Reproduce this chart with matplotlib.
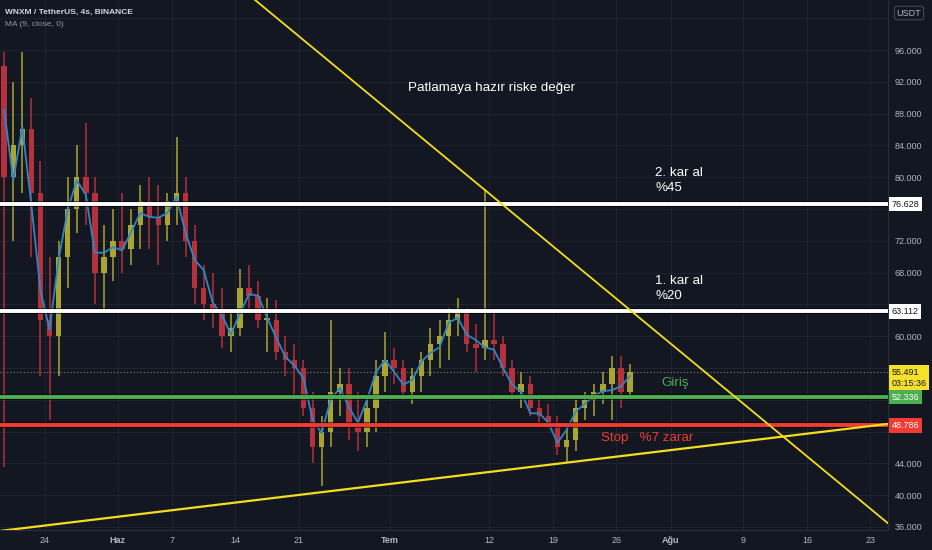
import matplotlib
matplotlib.use("Agg")
import matplotlib.pyplot as plt
import matplotlib.transforms as mtransforms

# days counted from 24 May (0); each daily candle is drawn at day + 0.5
days = list(range(-5, 65))
opens = [94, 80, 84, 86, 78, 62, 60, 70, 76, 80, 78, 68, 70, 72, 71, 74, 77, 75, 74, 77,
         78, 72, 66, 64, 63, 60, 61, 66, 65, 62, 62, 58, 57, 56, 51, 46, 48, 53, 54, 49,
         48, 51, 55, 57, 56, 53, 55, 57, 59, 60, 62, 63, 59, 58.5, 59.5, 59, 56, 53, 54, 51,
         50, 49, 46, 47, 51, 52, 53, 54, 56, 53]
highs = [95.7, 92, 95.8, 90, 82, 70, 72, 80, 84, 86.8, 80, 74, 76, 78, 76, 79, 80, 79, 78, 85,
         80, 74, 69, 68, 66, 63, 68.5, 69, 67, 64.8, 64.5, 60, 59, 57, 53, 50, 62, 56, 56, 53,
         52, 57, 60.5, 58.5, 57, 56, 58, 61, 62, 63.5, 64.8, 63.5, 61.5, 78.5, 63.0, 60, 57, 55.5, 55, 52.5,
         51.5, 50, 49, 52, 53, 54, 55.5, 57.5, 57.5, 56.5]
lows = [43.5, 72, 78, 70, 55, 49.5, 55, 66, 73, 74, 64, 63, 67, 68, 69, 71, 71, 69, 72, 74,
        70, 64, 62, 61, 58.5, 58, 60, 63, 61, 58, 57, 55, 52, 50, 44, 41.2, 46, 50, 47, 45.5,
        46, 48, 53, 54, 52, 51.5, 53, 55, 56, 57, 60, 58, 55.5, 57, 57, 55, 52, 51, 50, 49,
        48.5, 45, 44, 45.5, 49.5, 50, 51.5, 49.5, 51, 52.5]
closes = [80, 84, 86, 78, 62, 60, 70, 76, 80, 78, 68, 70, 72, 71, 74, 77, 75, 74, 77, 78,
          72, 66, 64, 63, 60, 61, 66, 65, 62, 62, 58, 57, 56, 51, 46, 48, 53, 54, 49, 48,
          51, 55, 57, 56, 53, 55, 57, 59, 60, 62, 63, 59, 58.5, 59.5, 59, 56, 53, 54, 51, 50,
          49, 46, 47, 51, 52, 53, 54, 56, 53, 55.491]
ma9 = [88.5, 79.6, 86.3, 76.5, 65.8, 60.8, 69.6, 75.9, 79.6, 77.8, 70.5, 70.5, 71.2, 70.8, 73.1,
       75.5, 75.0, 74.9, 75.5, 77.5, 73.0, 69.6, 68.3, 64.2, 62.7, 60.2, 62.9, 65.3, 65.1, 62.3,
       59.8, 57.4, 56.3, 54.7, 49.5, 47.8, 52.0, 53.5, 51.1, 49.1, 52.0, 55.5, 57.0, 55.5, 53.9,
       54.5, 56.8, 57.9, 58.6, 61.7, 62.3, 60.2, 59.5, 58.6, 58.3, 56.0, 53.9, 53.0, 50.3, 50.3,
       49.1, 46.6, 48.2, 50.5, 51.5, 52.5, 53.1, 53.2, 53.7, 55.0]

# drawn levels and trend lines
tp2, tp1, last_price, entry, stop = 76.628, 63.112, 55.491, 52.336, 48.786
down_trend = ([23.15, 92.9], [102.3, 36.5])
up_trend = ([-4.96, 92.9], [35.5, 48.96])

x_ticks = [0, 8, 14, 21, 28, 38, 49, 56, 63, 69, 77, 84, 91]
x_labels = ['24', 'Haz', '7', '14', '21', 'Tem', '12', '19', '26', 'Ağu', '9', '16', '23']
y_ticks = list(range(36, 101, 4))
y_shown = [96, 92, 88, 84, 80, 72, 68, 60, 44, 40, 36]   # the rest sit under the price boxes

BG = '#131722'
GRID = '#1f2330'
AXC = '#b2b5be'
UP = '#aaa533'
DOWN = '#b5313b'
YEL = '#f2dd1f'
GREEN = '#4caf50'
RED = '#f23b33'
FONT = ['Liberation Sans', 'DejaVu Sans']

fig = plt.figure(figsize=(9.32, 5.5), dpi=100, facecolor=BG)
ax = fig.add_axes([0, 20 / 550, 888 / 932, 530 / 550])
ax.set_facecolor(BG)

# candles
xs = [d + 0.5 for d in days]
cols = [UP if c >= o else DOWN for o, c in zip(opens, closes)]
ax.vlines(xs, lows, highs, colors=cols, linewidth=1.1, zorder=3)
bottoms = [min(o, c) for o, c in zip(opens, closes)]
heights = [max(abs(c - o), 0.3) for o, c in zip(opens, closes)]
ax.bar(xs, heights, bottom=bottoms, width=0.6, color=cols, linewidth=0, zorder=3)
ax.plot(xs, ma9, color='#2f86c4', linewidth=1.3, zorder=4)

# levels
ax.axhline(last_price, color='#8a8560', linestyle=(0, (1, 2)), linewidth=0.8, zorder=2)
for lvl, c in [(tp2, 'white'), (tp1, 'white'), (entry, GREEN), (stop, RED)]:
    ax.axhline(lvl, color='black', linewidth=4.2, zorder=5, alpha=0.6)
    ax.axhline(lvl, color=c, linewidth=2.8, zorder=6)

ax.plot(*down_trend, color=YEL, linewidth=1.3, zorder=7)
ax.plot(*up_trend, color=YEL, linewidth=1.6, zorder=7)

# annotations
FS = 9.6
ax.text(40.0, 91.2, 'Patlamaya hazır riske değer', color='white', fontsize=FS,
        family=FONT, va='center', ha='left', zorder=8)
ax.text(67.26, 80.5, '2. kar al', color='white', fontsize=FS, family=FONT, va='center', zorder=8)
ax.text(67.26, 78.6, '%45', color='white', fontsize=FS, family=FONT, va='center', zorder=8)
ax.text(67.26, 66.9, '1. kar al', color='white', fontsize=FS, family=FONT, va='center', zorder=8)
ax.text(67.26, 65.05, '%20', color='white', fontsize=FS, family=FONT, va='center', zorder=8)
ax.text(68.0, 54.1, 'Giriş', color=GREEN, fontsize=FS, family=FONT, va='center', zorder=8)
ax.text(61.3, 47.2, 'Stop   %7 zarar', color=RED, fontsize=FS, family=FONT, va='center', zorder=8)

# header
fig.text(5 / 932, 1 - 12 / 550, 'WNXM / TetherUS, 4s, BINANCE', color='#d1d4dc', fontsize=6,
         fontweight='bold', family=FONT, va='center')
fig.text(5 / 932, 1 - 25 / 550, 'MA (9, close, 0)', color='#9598a1', fontsize=6, family=FONT, va='center')

ax.set_xlim(-4.96, 92.94)
ax.set_ylim(35.62, 102.29)
ax.set_xticks(x_ticks)
ax.set_xticklabels(x_labels)
ax.set_yticks(y_ticks)
ax.set_yticklabels(['{:.3f}'.format(v) if v in y_shown else '' for v in y_ticks])
ax.yaxis.tick_right()
ax.tick_params(axis='both', length=0, labelsize=6.5, labelcolor=AXC)
ax.tick_params(axis='y', pad=5)
ax.tick_params(axis='x', pad=4)
for lab in ax.get_xticklabels() + ax.get_yticklabels():
    lab.set_family(FONT)
for lab, txt in zip(ax.get_xticklabels(), x_labels):
    if txt in ('Haz', 'Tem', 'Ağu'):
        lab.set_fontweight('bold')
ax.grid(True, color=GRID, linewidth=0.8, zorder=0)
for side in ['top', 'left']:
    ax.spines[side].set_visible(False)
for side in ['bottom', 'right']:
    ax.spines[side].set_color('#2a2e39')

# price boxes on the right scale
trans = mtransforms.blended_transform_factory(ax.transAxes, ax.transData)
boxes = [(tp2, '76.628', 'white', '#131722'), (tp1, '63.112', 'white', '#131722'),
         (last_price - 0.7, '55.491\n03:15:36', '#f5e02a', '#131722'),
         (entry, '52.336', GREEN, 'white'), (stop, '48.786', RED, 'white')]
for yv, txt, fc, tc in boxes:
    ax.text(1.004, yv, txt, transform=trans, color=tc, fontsize=6.5, family=FONT, va='center',
            ha='left', clip_on=False, zorder=10, linespacing=1.3,
            bbox=dict(boxstyle='square,pad=0.3', fc=fc, ec='none'))
fig.text(909 / 932, 1 - 13 / 550, 'USDT', color='#b2b5be', fontsize=6.5, family=FONT, ha='center',
         va='center', bbox=dict(boxstyle='round,pad=0.25', fc=BG, ec='#434651', lw=0.8))

fig.savefig('out.png', dpi=100, facecolor=BG)
